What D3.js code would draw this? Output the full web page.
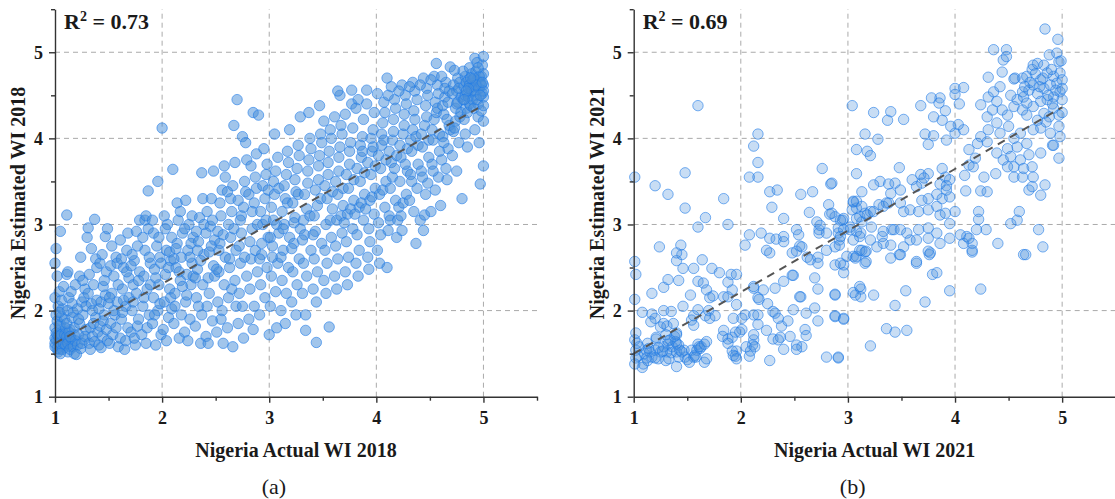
<!DOCTYPE html>
<html>
<head>
<meta charset="utf-8">
<script src="https://cdn.jsdelivr.net/npm/d3@7"></script>
<style>
  body { margin: 0; background: #fff; }
  svg { display: block; }
  text { font-family: "Liberation Serif", "Times New Roman", serif; fill: #1a1a1a; }
</style>
</head>
<body>
<svg id="chart"></svg>
<script>
// [actual, estimated] pairs
const wi2018 = [
  [1.00,1.58],[1.01,1.66],[1.02,1.72],[1.00,1.80],[1.03,1.63],[1.04,1.55],[1.05,1.70],[1.02,1.88],[1.06,1.60],[1.07,1.76],
  [1.01,1.95],[1.08,1.67],[1.03,2.05],[1.09,1.57],[1.05,1.84],[1.00,2.15],[1.06,1.93],[1.04,2.22],[1.08,1.74],[1.02,2.40],
  [1.00,2.55],[1.01,2.72],[1.07,2.02],[1.09,1.90],[1.05,2.92],[1.03,1.52],[1.06,2.12],[1.00,1.68],[1.08,2.28],[1.04,1.98],
  [1.00,1.62],[1.01,1.74],[1.02,1.56],[1.03,1.70],[1.04,1.82],[1.05,1.62],[1.06,1.72],[1.07,1.55],[1.08,1.62],[1.09,1.72],
  [1.10,1.60],[1.11,1.70],[1.12,1.52],[1.13,1.66],[1.14,1.78],[1.16,1.62],[1.18,1.72],[1.05,1.50],[1.10,1.80],[1.15,1.58],
  [1.11,3.11],[1.12,1.62],[1.13,1.75],[1.11,1.85],[1.14,1.55],[1.15,1.68],[1.12,2.00],[1.16,1.92],[1.17,1.58],[1.13,2.15],
  [1.18,1.80],[1.15,2.22],[1.19,1.65],[1.11,2.42],[1.16,2.08],[1.18,1.50],[1.14,1.70],[1.19,2.30],[1.12,2.45],[1.17,1.98],
  [1.21,1.60],[1.22,1.72],[1.23,1.85],[1.24,1.56],[1.25,2.10],[1.26,1.95],[1.27,1.66],[1.28,2.25],[1.21,2.02],[1.29,1.78],
  [1.23,2.40],[1.25,1.62],[1.27,2.15],[1.22,1.90],[1.26,2.35],[1.28,1.70],[1.24,2.62],[1.20,1.49],[1.29,2.05],
  [1.31,2.96],[1.37,3.06],[1.32,1.62],[1.33,1.80],[1.34,2.08],[1.35,1.70],[1.36,2.30],[1.38,1.92],[1.39,2.50],[1.31,2.20],
  [1.33,1.55],[1.35,2.00],[1.37,1.64],[1.39,2.12],[1.32,2.42],[1.36,1.85],[1.38,2.60],[1.34,2.72],[1.40,1.75],[1.30,2.85],
  [1.41,1.60],[1.42,1.82],[1.43,2.10],[1.44,1.70],[1.45,2.28],[1.46,1.95],[1.47,2.86],[1.48,2.45],[1.49,2.95],[1.41,2.02],
  [1.43,1.57],[1.45,1.88],[1.47,2.18],[1.49,1.65],[1.42,2.55],[1.46,2.35],[1.48,1.78],[1.44,2.65],[1.50,2.08],
  [1.51,1.62],[1.52,1.85],[1.53,2.20],[1.54,1.72],[1.55,2.40],[1.56,1.95],[1.57,2.62],[1.58,2.10],[1.59,1.58],[1.52,2.52],
  [1.55,2.00],[1.57,1.80],[1.59,2.30],[1.53,2.75],[1.58,2.55],[1.51,2.15],
  [1.61,1.68],[1.62,1.90],[1.63,2.25],[1.64,2.50],[1.65,1.55],[1.66,2.05],[1.67,2.70],[1.68,1.80],[1.69,2.38],[1.62,2.60],
  [1.64,2.12],[1.66,1.65],[1.68,2.90],[1.63,1.98],[1.67,2.45],[1.69,2.15],[1.61,2.82],
  [1.71,1.75],[1.72,2.00],[1.73,2.30],[1.74,2.58],[1.75,1.60],[1.76,2.20],[1.77,2.75],[1.78,1.90],[1.79,2.45],[1.72,2.65],
  [1.74,1.68],[1.76,2.92],[1.78,2.35],[1.73,2.10],[1.77,1.82],[1.79,3.05],[1.71,2.52],
  [1.81,1.72],[1.82,2.05],[1.83,2.40],[1.84,2.70],[1.85,1.62],[1.86,2.25],[1.87,3.39],[1.88,1.95],[1.89,2.55],[1.82,2.85],
  [1.84,3.05],[1.86,1.80],[1.88,2.62],[1.83,2.15],[1.87,2.95],[1.85,3.10],[1.89,2.30],
  [1.91,1.85],[1.92,2.15],[1.93,2.48],[1.94,1.60],[1.95,2.75],[1.96,2.00],[1.97,2.30],[1.98,2.62],[1.99,1.72],[1.92,2.90],
  [1.94,2.38],[1.96,3.50],[1.98,2.08],[1.93,1.95],[1.97,2.85],[1.99,2.55],[1.91,3.05],
  [2.00,4.12],[2.01,1.78],[2.02,2.10],[2.03,2.42],[2.04,2.70],[2.05,3.00],[2.06,1.92],[2.07,2.25],[2.08,2.58],[2.09,2.85],
  [2.02,3.10],[2.04,1.65],[2.06,2.50],[2.08,2.15],[2.03,2.95],[2.07,2.68],[2.09,2.02],[2.10,3.64],
  [2.11,1.85],[2.12,2.20],[2.13,2.50],[2.14,2.78],[2.15,3.05],[2.16,1.68],[2.17,2.35],[2.18,2.62],[2.19,2.90],[2.12,2.05],
  [2.14,3.25],[2.16,2.45],[2.18,1.95],[2.13,2.72],[2.17,3.15],[2.19,2.28],[2.11,2.60],
  [2.21,1.75],[2.22,2.10],[2.23,2.42],[2.24,2.70],[2.25,3.00],[2.26,1.90],[2.27,2.30],[2.28,2.55],[2.29,2.85],[2.22,3.28],
  [2.24,1.65],[2.26,2.62],[2.28,3.10],[2.23,2.18],[2.27,2.78],[2.29,2.40],[2.21,2.95],
  [2.31,1.82],[2.32,2.15],[2.33,2.48],[2.34,2.80],[2.35,3.08],[2.36,1.62],[2.37,3.60],[2.38,2.30],[2.39,2.65],[2.32,2.92],
  [2.34,2.05],[2.36,2.58],[2.38,3.30],[2.33,2.70],[2.37,1.95],[2.39,3.00],[2.31,2.38],
  [2.41,1.70],[2.42,2.05],[2.43,2.38],[2.44,2.68],[2.45,2.98],[2.46,3.30],[2.47,1.88],[2.48,2.52],[2.49,2.82],[2.42,3.15],
  [2.44,2.20],[2.46,2.75],[2.48,3.62],[2.43,1.62],[2.47,3.05],[2.49,2.40],[2.41,2.90],
  [2.51,1.75],[2.52,2.10],[2.53,2.45],[2.54,2.78],[2.55,3.10],[2.56,3.40],[2.57,1.62],[2.58,2.30],[2.59,2.62],[2.52,2.92],
  [2.54,3.25],[2.56,2.00],[2.58,3.68],[2.53,2.70],[2.57,2.88],[2.59,3.55],[2.51,2.48],[2.55,1.90],
  [2.61,1.80],[2.62,2.15],[2.63,2.50],[2.64,2.85],[2.65,3.15],[2.66,3.45],[2.67,4.15],[2.68,2.35],[2.69,2.70],[2.62,3.00],
  [2.64,3.30],[2.66,1.58],[2.68,3.72],[2.63,2.60],[2.67,2.95],[2.69,2.05],[2.61,3.38],[2.65,2.25],
  [2.70,4.45],[2.71,1.85],[2.72,2.20],[2.73,2.55],[2.74,2.90],[2.75,4.02],[2.76,3.20],[2.77,3.50],[2.78,3.95],[2.79,2.40],
  [2.72,2.75],[2.74,3.10],[2.76,1.68],[2.78,3.38],[2.73,3.05],[2.77,2.62],[2.79,3.75],[2.71,3.28],[2.75,2.05],
  [2.81,1.90],[2.82,2.25],[2.83,2.60],[2.84,2.95],[2.85,4.30],[2.86,3.25],[2.87,3.55],[2.88,3.82],[2.89,2.45],[2.82,2.80],
  [2.84,3.15],[2.86,2.05],[2.88,3.42],[2.83,3.68],[2.87,2.70],[2.89,3.00],[2.81,3.35],[2.85,1.78],
  [2.90,4.27],[2.91,1.95],[2.92,2.30],[2.93,2.65],[2.94,3.00],[2.95,3.88],[2.96,3.30],[2.97,3.58],[2.98,2.50],[2.99,2.85],
  [2.92,3.15],[2.94,3.45],[2.96,2.15],[2.98,3.70],[2.93,2.78],[2.97,3.05],[2.99,3.40],[2.91,2.60],
  [3.00,1.72],[3.01,2.05],[3.02,2.40],[3.03,2.75],[3.04,3.05],[3.05,3.35],[3.06,3.62],[3.07,1.80],[3.08,2.55],[3.09,2.90],
  [3.02,3.20],[3.04,3.50],[3.06,2.22],[3.08,3.78],[3.03,2.62],[3.07,3.00],[3.09,3.42],[3.01,2.85],[3.05,4.05],
  [3.11,2.00],[3.12,2.35],[3.13,2.70],[3.14,3.00],[3.15,3.30],[3.16,3.58],[3.17,3.85],[3.18,2.50],[3.19,2.85],[3.12,3.15],
  [3.14,3.45],[3.16,2.20],[3.18,3.72],[3.13,2.95],[3.17,3.25],[3.19,4.10],[3.11,2.62],[3.15,1.85],
  [3.21,2.10],[3.22,2.45],[3.23,2.78],[3.24,3.08],[3.25,3.38],[3.26,3.65],[3.27,3.92],[3.28,2.60],[3.29,2.95],[3.22,3.25],
  [3.24,3.52],[3.26,2.30],[3.28,3.80],[3.23,3.02],[3.27,3.35],[3.29,4.25],[3.21,2.72],[3.25,1.95],
  [3.31,2.20],[3.32,2.55],[3.33,2.88],[3.34,1.95],[3.34,1.77],[3.35,3.18],[3.36,3.48],[3.37,3.75],[3.38,4.00],[3.39,2.70],
  [3.32,3.05],[3.33,3.35],[3.35,2.40],[3.36,3.62],[3.38,3.10],[3.39,3.88],[3.31,2.82],[3.37,4.30],
  [3.41,2.25],[3.42,2.60],[3.43,2.92],[3.44,1.63],[3.45,3.22],[3.46,3.52],[3.47,3.80],[3.48,4.05],[3.49,2.78],[3.42,3.10],
  [3.43,3.40],[3.45,2.45],[3.46,3.68],[3.48,3.30],[3.49,3.95],[3.41,2.88],[3.47,4.38],[3.44,2.10],
  [3.51,2.35],[3.52,2.70],[3.53,3.00],[3.54,3.30],[3.55,3.58],[3.56,1.81],[3.56,3.85],[3.57,4.10],[3.58,2.85],[3.59,3.18],
  [3.52,3.45],[3.54,2.55],[3.55,3.72],[3.57,3.05],[3.58,4.00],[3.59,3.38],[3.51,4.20],[3.53,2.20],
  [3.61,2.40],[3.62,2.75],[3.63,3.05],[3.64,3.35],[3.65,3.62],[3.66,3.90],[3.67,4.15],[3.68,2.90],[3.69,3.22],[3.62,3.50],
  [3.64,2.60],[3.65,3.78],[3.67,3.10],[3.68,4.05],[3.69,3.42],[3.61,4.25],[3.63,2.25],[3.66,4.50],[3.64,4.55],
  [3.71,2.45],[3.72,2.80],[3.73,3.12],[3.74,3.42],[3.75,3.70],[3.76,3.95],[3.77,4.56],[3.78,2.95],[3.79,3.28],[3.72,3.58],
  [3.74,2.62],[3.75,3.85],[3.76,3.18],[3.78,4.12],[3.79,3.52],[3.71,4.28],[3.73,2.30],[3.77,4.40],[3.70,3.02],
  [3.81,2.55],[3.82,2.88],[3.83,4.45],[3.84,3.20],[3.85,3.50],[3.86,3.78],[3.87,4.02],[3.88,3.05],[3.89,3.35],[3.82,3.65],
  [3.84,2.70],[3.85,3.92],[3.86,3.25],[3.88,4.22],[3.89,3.60],[3.81,4.35],[3.83,2.40],[3.87,3.85],[3.80,3.12],
  [3.91,4.56],[3.92,2.62],[3.93,2.95],[3.94,3.28],[3.95,3.58],[3.96,3.85],[3.97,4.10],[3.98,3.12],[3.99,3.42],[3.92,3.72],
  [3.94,2.80],[3.95,4.00],[3.96,3.32],[3.98,4.30],[3.99,3.68],[3.91,4.40],[3.93,2.48],[3.97,3.90],[3.90,3.18],
  [4.01,2.70],[4.02,3.02],[4.03,3.35],[4.04,3.65],[4.05,3.92],[4.06,4.18],[4.07,4.42],[4.08,3.20],[4.09,3.50],[4.02,3.80],
  [4.04,2.88],[4.05,4.05],[4.06,3.40],[4.08,4.30],[4.09,3.75],[4.01,4.52],[4.03,2.55],[4.07,3.98],[4.10,4.70],[4.10,2.50],
  [4.11,2.93],[4.12,3.10],[4.13,3.42],[4.14,3.72],[4.15,3.98],[4.16,4.22],[4.17,4.45],[4.18,3.28],[4.19,2.85],[4.12,3.85],
  [4.14,4.60],[4.15,3.55],[4.16,4.08],[4.18,4.35],[4.19,3.80],[4.11,4.50],[4.13,3.05],[4.17,3.65],[4.20,3.05],
  [4.21,3.20],[4.22,3.50],[4.23,3.78],[4.24,2.93],[4.25,4.05],[4.26,4.28],[4.27,4.50],[4.28,3.35],[4.29,3.62],[4.22,3.92],
  [4.24,4.62],[4.25,3.25],[4.26,4.15],[4.28,4.40],[4.29,3.88],[4.21,4.55],[4.23,3.10],[4.27,3.70],
  [4.31,3.28],[4.32,3.58],[4.33,3.85],[4.34,4.10],[4.35,4.32],[4.36,4.55],[4.37,2.78],[4.38,3.42],[4.39,3.70],[4.32,3.98],
  [4.34,4.65],[4.35,3.15],[4.36,4.22],[4.38,4.45],[4.39,3.92],[4.31,4.60],[4.33,3.50],[4.37,4.02],
  [4.41,3.05],[4.42,3.62],[4.43,3.90],[4.44,2.93],[4.45,3.11],[4.45,4.15],[4.46,4.38],[4.47,4.58],[4.48,3.48],[4.49,3.78],
  [4.42,4.05],[4.44,4.70],[4.46,3.35],[4.47,4.25],[4.48,4.50],[4.49,3.98],[4.41,4.62],[4.43,3.55],
  [4.51,3.15],[4.52,3.70],[4.53,3.98],[4.54,4.22],[4.55,4.42],[4.56,4.87],[4.57,4.62],[4.58,3.55],[4.59,3.85],[4.52,4.10],
  [4.54,4.72],[4.55,3.40],[4.56,4.30],[4.58,4.52],[4.59,4.05],[4.51,4.68],[4.53,3.62],[4.57,4.35],[4.60,3.22],
  [4.61,3.75],[4.62,4.02],[4.63,4.28],[4.64,4.48],[4.65,4.65],[4.66,3.52],[4.67,3.88],[4.68,4.15],[4.69,4.83],[4.62,4.38],
  [4.64,4.58],[4.65,3.65],[4.66,4.22],[4.68,4.55],[4.69,4.10],[4.61,4.72],[4.63,3.95],[4.67,4.42],
  [4.71,3.80],[4.72,4.08],[4.73,4.79],[4.74,4.35],[4.75,4.55],[4.76,4.70],[4.77,3.95],[4.78,4.25],[4.79,4.48],[4.72,4.62],
  [4.74,4.20],[4.75,3.62],[4.76,4.42],[4.78,4.65],[4.79,4.30],[4.71,4.52],[4.73,4.12],[4.77,4.58],[4.75,4.40],
  [4.80,3.30],[4.81,4.45],[4.82,4.60],[4.83,4.72],[4.84,4.35],[4.85,4.52],[4.86,4.68],[4.87,4.40],[4.88,4.58],[4.89,4.75],
  [4.81,4.78],[4.82,4.22],[4.83,4.50],[4.84,4.65],[4.85,4.30],[4.86,4.48],[4.87,4.62],[4.88,4.38],[4.89,4.55],[4.83,4.05],
  [4.85,3.90],[4.87,4.82],
  [4.90,4.45],[4.91,4.60],[4.92,4.93],[4.93,4.50],[4.94,4.68],[4.95,4.40],[4.96,4.58],[4.97,3.47],[4.98,4.72],[4.99,4.52],
  [5.00,4.95],[5.00,4.62],[5.00,3.68],[4.91,4.35],[4.93,4.78],[4.95,4.25],[4.97,4.65],[4.99,4.85],[5.00,4.48],[5.00,4.20],
  [4.92,4.10],[4.96,3.95],[4.98,4.32],[5.00,4.75],[4.94,4.88],
  [4.90,4.68],[4.92,4.55],[4.94,4.45],[4.96,4.72],[4.98,4.62],[5.00,4.55],[4.91,4.70],[4.93,4.62],[4.97,4.50],[4.99,4.65],
  [4.88,4.70],[4.86,4.58],[4.84,4.55],[4.82,4.45],[4.95,4.82],[5.00,4.38]
];

// [actual, estimated] pairs
const wi2021 = [
  [1.01,3.55],[1.20,3.45],[1.32,3.35],[1.48,3.60],[1.48,3.19],[1.67,3.08],[1.60,2.97],[1.84,3.30],[1.88,3.00],[1.60,4.38],
  [2.08,3.55],[2.16,3.55],[2.12,3.91],[2.16,4.05],[2.16,3.72],[2.27,3.38],[2.34,3.40],[2.29,3.20],[2.40,3.07],[2.56,3.35],
  [2.67,3.38],[2.64,3.14],[2.76,3.65],[2.84,3.47],[2.82,3.23],[2.88,3.09],[2.83,3.12],[2.95,3.05],
  [2.08,2.88],[2.04,2.76],[2.19,2.90],[2.27,2.84],[2.33,2.83],[2.40,2.86],[2.40,2.80],[2.52,2.94],[2.54,2.88],[2.55,2.75],
  [2.71,3.03],[2.73,2.94],[2.73,2.90],[2.74,2.99],[2.80,2.90],[2.91,2.96],[1.24,2.74],[1.44,2.76],
  [2.24,2.70],[2.27,2.67],[2.48,2.67],[2.52,2.69],[2.57,2.74],[2.62,2.62],[2.65,2.59],[2.72,2.62],[2.72,2.55],[2.80,2.70],
  [2.88,2.74],[2.92,2.82],[2.92,2.76],[2.69,2.38],[2.72,2.25],[2.88,2.18],[3.05,2.21],[2.49,2.41],[2.40,2.34],[2.32,2.26],
  [2.21,2.24],[2.12,2.26],[2.16,2.15],[2.56,2.16],[2.48,2.41],[2.55,2.16],[2.12,2.28],[2.17,2.13],
  [2.04,1.95],[2.01,1.91],[1.93,1.91],[2.12,1.95],[2.16,1.95],[2.16,1.84],[2.25,2.08],[2.30,1.99],[2.35,1.91],[2.38,1.82],
  [2.44,1.88],[2.49,2.01],[2.61,1.97],[2.69,2.03],[2.72,1.88],[2.88,1.93],[2.96,1.91],[2.32,1.97],
  [2.24,1.77],[2.30,1.67],[2.37,1.69],[2.40,1.55],[2.52,1.60],[2.57,1.58],[2.52,1.55],[2.60,1.78],[2.61,1.71],[2.80,1.46],
  [2.91,1.45],[2.27,1.42],[2.12,1.66],[2.11,1.60],[2.35,1.66],[2.46,1.70],[2.08,1.47],
  [1.84,1.77],[1.88,1.67],[1.92,1.69],[1.96,1.53],[2.01,1.78],[2.05,1.58],[2.09,1.53],[2.12,1.72],[2.13,1.58],[1.92,1.53],
  [1.95,1.47],[1.93,1.48],[1.96,1.44],[1.95,1.75],[1.99,1.75],[1.88,1.62],[1.83,1.70],
  [1.67,1.94],[1.70,2.00],[1.40,2.58],[1.45,2.65],[1.02,2.42],[1.46,2.49],[1.56,2.49],[1.73,2.49],[1.80,2.44],[1.32,2.36],
  [1.42,2.35],[1.28,2.27],[1.17,2.20],[1.53,2.18],[1.60,2.34],[1.65,2.32],[1.68,2.24],[1.74,2.17],[1.71,2.15],[1.84,2.16],
  [1.88,2.16],[1.91,2.42],[1.96,2.42],[1.88,2.33],[1.92,2.24],[1.96,2.07],[1.46,2.05],[1.60,2.01],[1.08,1.98],[1.17,1.96],
  [1.28,2.00],[1.35,1.99],[1.20,1.91],[1.28,1.85],[1.37,1.85],[1.56,1.94],[1.56,1.83],[1.71,1.91],[1.76,1.94],[1.40,2.67],
  [1.01,2.57],[1.64,2.59],[1.01,2.13],[1.16,1.87],[1.25,1.81],[1.31,1.82],[1.38,1.70],[1.40,1.74],[1.40,1.62],[1.34,1.66],
  [1.48,1.46],[1.31,1.52],[1.54,1.89],
  [1.01,1.66],[1.02,1.54],[1.04,1.47],[1.05,1.58],[1.08,1.34],[1.10,1.50],[1.13,1.42],[1.14,1.56],[1.17,1.46],[1.20,1.54],
  [1.21,1.67],[1.23,1.44],[1.25,1.52],[1.28,1.58],[1.30,1.42],[1.32,1.61],[1.35,1.51],[1.36,1.58],[1.39,1.64],[1.40,1.52],
  [1.42,1.46],[1.43,1.54],[1.47,1.54],[1.50,1.43],[1.54,1.54],[1.56,1.46],[1.57,1.48],[1.59,1.54],[1.60,1.61],[1.62,1.56],
  [1.63,1.58],[1.66,1.40],[1.68,1.44],[1.68,1.64],[1.02,1.45],[1.02,1.74],[1.03,1.62],[1.12,1.54],[1.15,1.52],[1.21,1.69],
  [1.23,1.57],[1.30,1.72],[1.32,1.65],[1.40,1.72],[1.42,1.60],[1.45,1.52],[1.52,1.40],[1.58,1.46],[1.61,1.58],[1.66,1.61],
  [1.40,1.35],[1.33,1.44],[1.20,1.45],[1.12,1.45],[1.09,1.38],[1.01,1.38],[1.27,1.53],[1.13,1.62],
  [2.91,1.46],[3.21,1.59],[3.36,1.79],[3.44,1.75],[3.55,1.77],[2.88,1.94],[2.96,1.90],[3.44,2.06],[3.72,2.10],[3.54,2.23],
  [3.95,2.23],[4.24,2.25],[3.24,2.18],[3.12,2.25],[3.12,2.16],[3.07,2.18],[2.88,2.19],[3.79,2.42],[3.83,2.44],[3.64,2.55],
  [3.40,2.61],[3.48,2.65],[3.76,2.65],[4.64,2.65],[4.16,2.68],[2.96,2.44],[2.96,2.53],[2.88,2.53],[3.16,2.55],[3.05,2.63],
  [3.08,2.63],[3.16,2.68],[3.11,2.28],[3.13,2.70],
  [3.05,3.26],[3.08,3.19],[3.11,3.09],[3.13,3.03],[3.02,2.97],[3.08,2.92],[3.11,2.86],[3.05,2.82],[3.11,2.70],
  [2.85,3.48],[2.96,3.07],[2.91,2.90],[3.04,3.17],[3.08,3.07],[3.05,3.27],[3.30,3.50],[3.49,3.25],[3.38,3.25],[3.33,3.21],
  [3.21,3.15],[3.16,3.13],[3.12,2.90],[3.21,2.82],[3.32,2.86],[3.41,2.94],[3.58,2.82],[2.96,2.94],[2.85,3.13],
  [3.04,4.38],[3.24,4.30],[3.40,4.31],[3.37,4.21],[3.52,4.22],[3.68,4.38],[3.78,4.47],[3.86,4.47],[3.85,4.41],[3.91,4.32],
  [4.00,4.58],[4.08,4.59],[4.00,4.51],[4.04,4.40],[3.16,4.05],[3.28,3.99],[3.08,3.87],[3.18,3.85],[3.21,3.80],[3.75,3.93],
  [3.80,4.03],[3.72,4.05],[3.92,3.98],[4.00,4.06],[4.08,4.10],[4.03,4.16],[3.96,4.14],[3.88,4.21],[3.80,4.25],
  [3.08,3.59],[3.48,3.66],[3.24,3.46],[3.13,3.38],[3.38,3.47],[3.44,3.48],[3.49,3.40],[3.40,3.36],[3.60,3.52],[3.68,3.58],
  [3.75,3.59],[3.71,3.54],[3.69,3.48],[3.88,3.65],[3.91,3.55],[3.95,3.52],[3.86,3.47],[3.92,3.45],[3.83,3.35],[3.88,3.30],
  [3.95,3.32],[4.00,3.15],[4.10,3.39],[4.09,3.57],[4.13,3.69],[4.17,3.67],[4.19,3.77],[4.13,3.87],[4.21,3.94],[4.24,4.02],
  [4.30,3.96],[4.38,3.59],[4.27,3.55],[4.24,3.39],[4.30,3.38],[4.22,3.15],[4.22,3.06],[4.29,2.94],[4.20,2.94],[4.11,2.86],
  [4.05,2.88],[4.16,2.78],[4.08,2.78],[4.40,2.78],[4.52,3.01],[4.58,3.05],[4.60,3.15],[4.66,2.65],[4.82,2.74],[4.78,2.94],
  [4.69,3.40],[4.72,3.44],[4.84,3.46],[4.80,3.34],
  [4.24,4.39],[4.31,4.48],[4.36,4.54],[4.42,4.60],[4.39,4.43],[4.30,4.25],[4.35,4.33],[4.44,4.33],[4.49,4.27],[4.55,4.37],
  [4.58,4.45],[4.52,4.50],[4.64,4.48],[4.63,4.33],[4.67,4.27],[4.39,4.18],[4.31,4.10],[4.42,4.06],[4.50,4.14],[4.55,4.00],
  [4.61,4.06],[4.67,3.94],[4.58,3.90],[4.49,3.88],[4.52,3.79],[4.61,3.75],[4.69,3.81],[4.55,3.67],[4.64,3.65],[4.72,3.67],
  [4.49,3.67],[4.45,3.75],[4.39,3.83],[4.80,3.83],[4.91,3.92],[4.73,3.55],[4.55,3.55],[4.63,3.55],
  [4.63,4.70],[4.67,4.72],[4.72,4.80],[4.77,4.87],[4.83,4.85],[4.88,4.97],[4.95,4.99],[4.97,4.89],[4.98,4.76],[4.92,4.72],
  [4.86,4.76],[4.80,4.68],[4.73,4.62],[4.69,4.56],[4.77,4.52],[4.83,4.58],[4.89,4.62],[4.95,4.64],[4.98,4.54],[4.92,4.48],
  [4.86,4.45],[4.80,4.43],[4.73,4.37],[4.67,4.41],[4.92,4.35],[4.97,4.27],[4.88,4.25],[4.83,4.29],[4.77,4.21],[4.80,4.12],
  [4.97,4.14],[4.98,4.02],[4.89,4.06],[4.92,3.92],[4.97,3.77],[4.73,4.10],[4.85,4.19],[5.00,4.45],[5.00,4.68],[4.73,4.85],
  [4.63,4.54],[4.56,4.70],[4.70,4.65],[4.75,4.75],[4.82,4.70],[4.90,4.80],[4.94,4.56],[4.87,4.50],[4.79,4.60],[5.00,4.58],
  [5.00,4.30],[4.99,4.90],[4.65,4.60],[4.91,4.40],
  [4.36,5.03],[4.48,5.03],[4.45,4.91],[4.48,4.95],[4.44,4.77],[4.31,4.71],[4.55,4.69],[4.84,5.27],[4.96,5.15],
  [2.93,3.05],[3.08,3.27],[3.13,3.21],[3.18,3.11],[3.24,3.15],[3.29,3.23],[3.36,3.25],[3.52,3.15],[3.58,3.17],[3.66,3.15],
  [3.75,3.17],[3.83,3.21],[3.86,3.11],[3.91,3.13],[3.95,3.01],[3.92,3.40],[3.75,3.30],[3.69,3.28],[3.64,3.44],
  [2.93,2.86],[3.02,2.94],[3.22,2.97],[3.33,2.92],[3.43,2.94],[3.49,2.94],[3.55,2.90],[3.66,2.94],[3.75,2.96],[3.83,2.90],
  [3.95,2.84],[4.13,2.84],[4.16,2.70],[3.33,2.78],[3.40,2.76],[3.52,2.74],[3.64,2.82],[3.75,2.84],[3.77,2.67],[3.86,2.78],
  [2.99,2.63],[3.07,2.61],[3.17,2.69],[3.27,2.74],[3.49,2.65],[3.64,2.57],[3.75,2.69],[2.93,2.55],[3.17,2.57]
];

// dashed trend lines, [actual, estimated] end points
const fit2018 = [[1.00,1.62],[4.95,4.35]];
const fit2021 = [[1.00,1.50],[5.00,4.36]];

const r2Labels = ["0.73", "0.69"];
const xTitles = ["Nigeria Actual WI 2018", "Nigeria Actual WI 2021"];
const yTitles = ["Nigeria Estimated WI 2018", "Nigeria Estimated WI 2021"];
const panelTags = ["(a)", "(b)"];
const majorTicks = [1, 2, 3, 4, 5];
const minorTicks = [1.5, 2.5, 3.5, 4.5, 5.5];
const gridTicks = [2, 3, 4, 5];

const svgWidth = 1115;
const svgHeight = 499;
const plotW = 482;
const plotTop = 9.2;
const plotBottom = 396.7;

const svg = d3.select("#chart")
  .attr("width", svgWidth)
  .attr("height", svgHeight);

const panels = [
  { data: wi2018, fit: fit2018, left: 55, fillOp: 0.52 },
  { data: wi2021, fit: fit2021, left: 633.7, fillOp: 0.3 }
];

panels.forEach((p, i) => {
  const x = d3.scaleLinear().domain([1, 5.5]).range([p.left, p.left + plotW]);
  const y = d3.scaleLinear().domain([1, 5.5]).range([plotBottom, plotTop]);
  const g = svg.append("g");

  // grid
  g.append("g").selectAll("line")
    .data(gridTicks)
    .join("line")
    .attr("x1", d => x(d)).attr("x2", d => x(d))
    .attr("y1", plotBottom).attr("y2", plotTop)
    .attr("stroke", "#aaa").attr("stroke-dasharray", "5,4");
  g.append("g").selectAll("line")
    .data(gridTicks)
    .join("line")
    .attr("x1", p.left).attr("x2", p.left + plotW)
    .attr("y1", d => y(d)).attr("y2", d => y(d))
    .attr("stroke", "#aaa").attr("stroke-dasharray", "5,4");

  // points
  g.append("g").selectAll("circle")
    .data(p.data)
    .join("circle")
    .attr("cx", d => x(d[0]))
    .attr("cy", d => y(d[1]))
    .attr("r", 5.2)
    .attr("fill", "#4a90d9")
    .attr("fill-opacity", p.fillOp)
    .attr("stroke", "#1f7ae8")
    .attr("stroke-opacity", 0.75)
    .attr("stroke-width", 0.8);

  // trend line
  g.append("path")
    .datum(p.fit)
    .attr("d", d3.line().x(d => x(d[0])).y(d => y(d[1])))
    .attr("fill", "none")
    .attr("stroke", "#555")
    .attr("stroke-width", 2)
    .attr("stroke-dasharray", "8,6");

  // axes
  const xMinor = g.append("g")
    .attr("transform", `translate(0,${plotBottom})`)
    .call(d3.axisBottom(x).tickValues(minorTicks).tickFormat("").tickSize(4).tickSizeOuter(0));
  xMinor.select(".domain").remove();
  g.append("g")
    .attr("transform", `translate(0,${plotBottom})`)
    .call(d3.axisBottom(x).tickValues(majorTicks).tickFormat(d3.format("d")).tickSize(6).tickSizeOuter(0).tickPadding(9));

  const yMinor = g.append("g")
    .attr("transform", `translate(${p.left},0)`)
    .call(d3.axisLeft(y).tickValues(minorTicks).tickFormat("").tickSize(4).tickSizeOuter(0));
  yMinor.select(".domain").remove();
  g.append("g")
    .attr("transform", `translate(${p.left},0)`)
    .call(d3.axisLeft(y).tickValues(majorTicks).tickFormat(d3.format("d")).tickSize(6).tickSizeOuter(0).tickPadding(6));

  g.selectAll(".domain, .tick line").attr("stroke", "#333").attr("stroke-width", 1.4);
  g.selectAll(".tick text")
    .attr("font-family", "Liberation Serif")
    .attr("font-weight", "bold")
    .attr("font-size", 18)
    .attr("fill", "#1a1a1a");

  // R² label
  const r2 = g.append("text")
    .attr("x", p.left + 9)
    .attr("y", 29)
    .attr("font-size", 22)
    .attr("font-weight", "bold");
  r2.append("tspan").text("R");
  r2.append("tspan").attr("dy", -8).attr("font-size", 14).text("2");
  r2.append("tspan").attr("dy", 8).text(" = " + r2Labels[i]);

  // titles
  g.append("text")
    .attr("x", p.left + 241)
    .attr("y", 457)
    .attr("text-anchor", "middle")
    .attr("font-size", 20)
    .attr("font-weight", "bold")
    .text(xTitles[i]);

  g.append("text")
    .attr("transform", `translate(${p.left - 30},203) rotate(-90)`)
    .attr("text-anchor", "middle")
    .attr("font-size", 20)
    .attr("font-weight", "bold")
    .text(yTitles[i]);

  g.append("text")
    .attr("x", p.left + 219)
    .attr("y", 494)
    .attr("text-anchor", "middle")
    .attr("font-size", 22)
    .text(panelTags[i]);
});
</script>
</body>
</html>
